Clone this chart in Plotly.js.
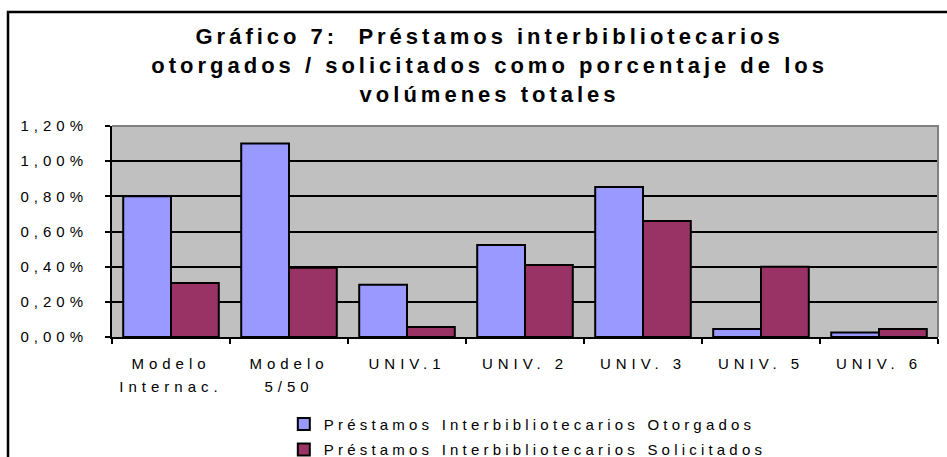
<!DOCTYPE html>
<html>
<head>
<meta charset="utf-8">
<script src="https://cdn.plot.ly/plotly-3.0.1.min.js"></script>
<style>
  body { margin: 0; background: #fff; }
  .gtitle { letter-spacing: 4px; }
  .xtick text, .ytick text { letter-spacing: 5px; }
  .legendtext { letter-spacing: 4.2px; }
</style>
</head>
<body>
<div id="myDiv"></div>
<script>
var categorias = ['Modelo<br>Internac.', 'Modelo<br>5/50', 'UNIV.1', 'UNIV. 2', 'UNIV. 3', 'UNIV. 5', 'UNIV. 6'];
// valores en %
var otorgados   = [0.80, 1.10, 0.297, 0.523, 0.853, 0.045, 0.025];
var solicitados = [0.307, 0.394, 0.057, 0.41, 0.66, 0.40, 0.045];

var data = [{
  x: categorias,
  y: otorgados,
  name: 'Préstamos Interbibliotecarios Otorgados',
  legendgroup: 'a',
  type: 'bar',
  marker: {color: '#9999FF', line: {color: '#000', width: 2}}
},
{
  x: categorias,
  y: solicitados,
  name: 'Préstamos Interbibliotecarios Solicitados',
  legendgroup: 'b',
  type: 'bar',
  marker: {color: '#993366', line: {color: '#000', width: 2}}
}];

var layout = {
  width: 947,
  height: 457,
  margin: {l: 112, r: 9, t: 126, b: 120, autoexpand: false},
  paper_bgcolor: '#fff',
  plot_bgcolor: '#C0C0C0',
  separators: ',.',
  font: {family: 'Liberation Sans, Arial, sans-serif', color: '#000', size: 15},
  title: {
    text: '<b>Gráfico 7:  Préstamos interbibliotecarios<br>otorgados / solicitados como porcentaje de los<br>volúmenes totales</b>',
    font: {size: 22, color: '#000'},
    x: 0.517, xref: 'container', xanchor: 'center',
    y: 0.903, yref: 'container', yanchor: 'top'
  },
  barmode: 'group',
  bargap: 0.19,
  bargroupgap: 0,
  showlegend: true,
  legend: {
    x: 0.208, xanchor: 'left',
    y: -0.335, yanchor: 'top',
    traceorder: 'grouped',
    tracegroupgap: 3,
    font: {size: 15},
    bgcolor: 'rgba(0,0,0,0)'
  },
  xaxis: {
    type: 'category',
    automargin: false,
    tickson: 'boundaries',
    ticks: 'outside',
    ticklen: 5,
    tickcolor: '#000',
    tickwidth: 1.5,
    showline: true,
    linecolor: '#000',
    linewidth: 2,
    showgrid: false,
    ticklabelstandoff: 12,
    tickfont: {size: 15}
  },
  yaxis: {
    automargin: false,
    range: [0, 1.2],
    dtick: 0.2,
    tickformat: '.2f',
    ticksuffix: '%',
    ticks: 'outside',
    ticklen: 5,
    tickcolor: '#000',
    tickwidth: 1.5,
    showline: true,
    linecolor: '#000',
    linewidth: 2,
    showgrid: true,
    gridcolor: '#000',
    gridwidth: 2,
    zeroline: false,
    ticklabelstandoff: 14,
    tickfont: {size: 15}
  },
  shapes: [
    // borde gris del área de trazado (arriba y derecha)
    {type: 'path', xref: 'paper', yref: 'paper', path: 'M 0 1 L 1 1 L 1 0',
     line: {color: '#808080', width: 2}, layer: 'above'},
    // marco exterior del gráfico
    {type: 'rect', xref: 'paper', yref: 'paper', x0: -0.1259, x1: 1.03, y0: -0.75, y1: 1.54,
     line: {color: '#000', width: 2.5}, fillcolor: 'rgba(0,0,0,0)', layer: 'above'}
  ]
};

Plotly.newPlot('myDiv', data, layout, {displayModeBar: false}).then(function (gd) {
  // separar más las dos líneas de las etiquetas de categoría
  gd.querySelectorAll('.xtick tspan.line').forEach(function (t) {
    if (t.getAttribute('dy') && t.getAttribute('dy') !== '0em') t.setAttribute('dy', '1.55em');
  });
});
</script>
</body>
</html>
